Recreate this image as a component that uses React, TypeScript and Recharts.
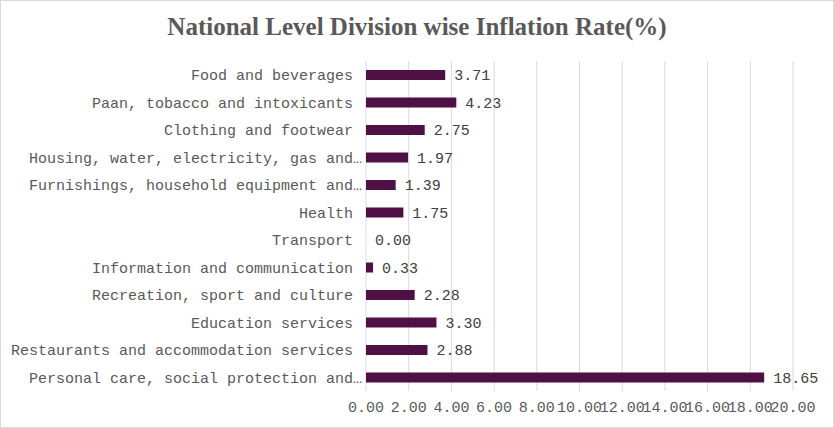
import { Bar, BarChart, CartesianGrid, LabelList, XAxis, YAxis } from "recharts";

const divisions = [
  "Food and beverages",
  "Paan, tobacco and intoxicants",
  "Clothing and footwear",
  "Housing, water, electricity, gas and…",
  "Furnishings, household equipment and…",
  "Health",
  "Transport",
  "Information and communication",
  "Recreation, sport and culture",
  "Education services",
  "Restaurants and accommodation services",
  "Personal care, social protection and…",
];

const inflationRates = [3.71, 4.23, 2.75, 1.97, 1.39, 1.75, 0.0, 0.33, 2.28, 3.3, 2.88, 18.65];

const xTicks = [0, 2, 4, 6, 8, 10, 12, 14, 16, 18, 20];

const data = divisions.map((division, i) => ({ division, rate: inflationRates[i] }));

const mono = "'Liberation Mono', 'Courier New', monospace";

// Excel lets the ellipsis hang past the label's right edge
function DivisionTick(props: any) {
  const { x, y, payload } = props;
  const label = String(payload.value);
  const cut = label.endsWith("…");
  const textStyle = { fontFamily: mono, fontSize: 15, fill: "#595959" };
  return (
    <g>
      <text x={x} y={y} dy="0.355em" textAnchor="end" style={textStyle}>
        {cut ? label.slice(0, -1) : label}
      </text>
      {cut && (
        <text x={x} y={y} dy="0.355em" textAnchor="start" style={textStyle}>
          …
        </text>
      )}
    </g>
  );
}

function RateLabel(props: any) {
  const { x, y, width, height, value } = props;
  return (
    <text
      x={Number(x) + Number(width) + 9}
      y={Number(y) + Number(height) / 2}
      dy="0.355em"
      style={{ fontFamily: mono, fontSize: 15, fill: "#404040" }}
    >
      {Number(value).toFixed(2)}
    </text>
  );
}

export default function App() {
  return (
    <div style={{ position: "fixed", left: 0, top: 0, width: 834, height: 428, background: "#fff" }}>
      <div
        style={{
          position: "absolute",
          left: 0,
          top: 13,
          width: 834,
          textAlign: "center",
          fontFamily: "'Liberation Serif', 'Times New Roman', serif",
          fontWeight: "bold",
          fontSize: 25,
          color: "#595959",
        }}
      >
        National Level Division wise Inflation Rate(%)
      </div>
      <BarChart
        width={834}
        height={428}
        data={data}
        layout="vertical"
        barSize={10}
        margin={{ top: 61, right: 41, bottom: 0, left: 0 }}
      >
        <CartesianGrid horizontal={false} stroke="#d9d9d9" />
        <XAxis
          type="number"
          domain={[0, 20]}
          ticks={xTicks}
          interval={0}
          axisLine={false}
          tickLine={false}
          tickSize={0}
          tickMargin={10}
          height={37}
          tickFormatter={(v) => Number(v).toFixed(2)}
          tick={{ fontFamily: mono, fontSize: 15, fill: "#595959" }}
        />
        <YAxis
          type="category"
          dataKey="division"
          width={366}
          interval={0}
          axisLine={false}
          tickLine={false}
          tickSize={0}
          tickMargin={13}
          tick={<DivisionTick />}
        />
        <Bar dataKey="rate" fill="#4e1045" minPointSize={0.01} isAnimationActive={false}>
          <LabelList dataKey="rate" content={<RateLabel />} />
        </Bar>
      </BarChart>
      <div
        style={{
          position: "absolute",
          inset: 0,
          border: "1px solid #d9d9d9",
          pointerEvents: "none",
        }}
      />
    </div>
  );
}
